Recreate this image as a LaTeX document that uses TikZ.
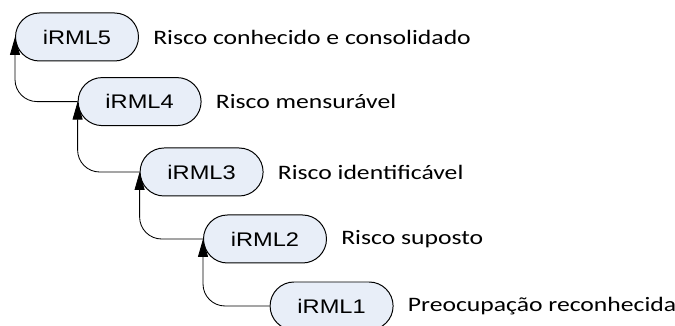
\documentclass[tikz,border=0pt]{standalone}
\usepackage{fontspec}
\setmainfont{Carlito}[FakeStretch=1.25]
\newfontfamily\boxfont{Liberation Sans}[FakeStretch=1.2]
\usetikzlibrary{arrows.meta,positioning}
\definecolor{levelfill}{RGB}{232,238,248}

\begin{document}
\begin{tikzpicture}[
  level/.style={draw, line width=0.7pt, rounded corners=0.6cm, fill=levelfill,
    minimum width=3.075cm, minimum height=1.2cm, inner sep=0pt,
    font=\boxfont\fontsize{14}{16}\selectfont},
  desc/.style={font=\fontsize{14.6}{17}\selectfont, inner sep=0pt, anchor=west},
  conn/.style={line width=0.6pt, rounded corners=0.55cm,
    -{Triangle[length=0.45cm, width=0.25cm]}}
]
  \useasboundingbox (0,0) rectangle (16.875,8.15);

  % Levels, from top to bottom
  \node[level] (i5) at (1.925,7.225) {iRML5};
  \node[level] (i4) at (3.49,5.61) {iRML4};
  \node[level] (i3) at (5.04,3.85) {iRML3};
  \node[level] (i2) at (6.625,2.175) {iRML2};
  \node[level] (i1) at (8.29,0.5) {iRML1};

  % Descriptions
  \node[desc, right=0.35cm of i5] (d5) {Risco conhecido e consolidado};
  \node[desc, right=0.35cm of i4] (d4) {Risco mensurável};
  \node[desc, right=0.35cm of i3] (d3) {Risco identificável};
  \node[desc, right=0.35cm of i2] (d2) {Risco suposto};
  \node[desc, right=0.35cm of i1] (d1) {Preocupação reconhecida};

  % Steps up
  \draw[conn] (i4.west) -| (i5.west);
  \draw[conn] (i3.west) -| (i4.west);
  \draw[conn] (i2.west) -| (i3.west);
  \draw[conn] (i1.west) -| (i2.west);
\end{tikzpicture}
\end{document}
